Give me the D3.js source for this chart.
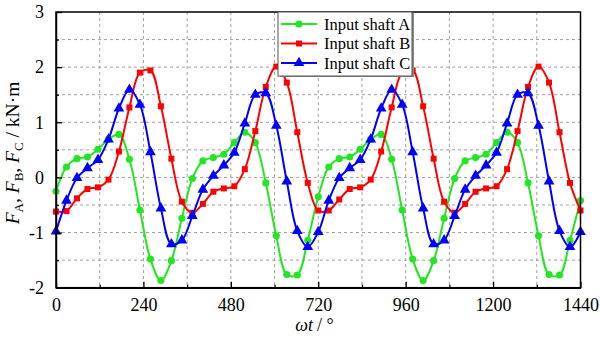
<!DOCTYPE html>
<html><head><meta charset="utf-8">
<script src="https://cdn.jsdelivr.net/npm/d3@7"></script>
<style>body{margin:0;background:#fff}svg{display:block}svg text{font-family:"Liberation Serif","Times New Roman",serif !important}</style>
</head><body><svg id="c" width="600" height="338"></svg>
<script>
// angles (degrees), one sample every 28.8°
const angles = d3.range(0, 51).map(i => i * 28.8);
const xTicks = [0, 240, 480, 720, 960, 1200, 1440];
const yTicks = [-2, -1, 0, 1, 2, 3];
const seriesNames = ["Input shaft A", "Input shaft B", "Input shaft C"];
const colors = ["#22e622", "#ff0000", "#0000ff"];
const shaftA = [
 -0.25, 0.19, 0.34, 0.37, 0.51, 0.69, 0.78, 0.33, -0.59, -1.48, -1.87, -1.51, -0.74,
 -0.02, 0.30, 0.36, 0.42, 0.63, 0.82, 0.63, -0.10, -1.06, -1.76, -1.77, -1.14, -0.35,
 0.19, 0.34, 0.37, 0.51, 0.69, 0.78, 0.33, -0.59, -1.48, -1.87, -1.51, -0.74,
 -0.02, 0.30, 0.36, 0.42, 0.63, 0.82, 0.63, -0.10, -1.06, -1.76, -1.77, -1.14, -0.42];
const shaftB = [
 -0.62, -0.61, -0.38, -0.21, -0.18, -0.04, 0.47, 1.27, 1.90, 1.94, 1.29, 0.34, -0.44,
 -0.64, -0.48, -0.26, -0.20, -0.16, 0.15, 0.84, 1.64, 2.01, 1.72, 0.82, -0.10, -0.60,
 -0.60, -0.40, -0.21, -0.18, -0.04, 0.47, 1.27, 1.90, 1.94, 1.29, 0.34, -0.44,
 -0.64, -0.48, -0.26, -0.20, -0.16, 0.15, 0.84, 1.64, 2.01, 1.72, 0.82, -0.10, -0.60];
const shaftC = [
 -0.98, -0.42, -0.01, 0.17, 0.32, 0.69, 1.25, 1.59, 1.32, 0.46, -0.56, -1.21, -1.14,
 -0.70, -0.22, 0.03, 0.22, 0.45, 0.98, 1.50, 1.53, 0.94, -0.07, -0.97, -1.26, -0.99,
 -0.42, -0.01, 0.17, 0.32, 0.69, 1.25, 1.59, 1.32, 0.46, -0.56, -1.21, -1.14,
 -0.70, -0.22, 0.03, 0.22, 0.45, 0.98, 1.50, 1.53, 0.94, -0.07, -0.97, -1.26, -0.99];
const seriesValues = [shaftA, shaftB, shaftC];

const FONT = '"Liberation Serif", "Times New Roman", serif';
const L = 56, R = 580.5, T = 12, B = 287.7;
const svg = d3.select("#c");
const x = d3.scaleLinear().domain([0, 1440]).range([L, R]);
const y = d3.scaleLinear().domain([-2, 3]).range([B, T]);

// grid
const g = svg.append("g");
g.selectAll(".gx").data(d3.range(120, 1440, 120)).join("line")
  .attr("x1", d => x(d)).attr("x2", d => x(d)).attr("y1", T).attr("y2", B)
  .attr("stroke", "#a0a0a0").attr("stroke-width", 1).attr("stroke-dasharray", "3,3");
g.selectAll(".gy").data(d3.range(-1.5, 3, 0.5)).join("line")
  .attr("y1", d => y(d)).attr("y2", d => y(d)).attr("x1", L).attr("x2", R)
  .attr("stroke", "#a0a0a0").attr("stroke-width", 1).attr("stroke-dasharray", "3,3");

// series
const line = d3.line().x((d, i) => x(angles[i])).y(d => y(d)).curve(d3.curveCatmullRom.alpha(0.5));
const sym = [d3.symbolCircle, d3.symbolSquare, d3.symbolTriangle];
const symSize = [40, 36, 50];
seriesValues.forEach((vals, k) => {
  svg.append("path").attr("d", line(vals)).attr("fill", "none")
    .attr("stroke", colors[k]).attr("stroke-width", 2);
  svg.append("g").selectAll("path").data(vals).join("path")
    .attr("d", d3.symbol().type(sym[k]).size(symSize[k]))
    .attr("transform", (d, i) => `translate(${x(angles[i])},${y(d)})`)
    .attr("fill", colors[k]);
});

// axes frame
svg.append("rect").attr("x", L).attr("y", T).attr("width", R - L).attr("height", B - T)
  .attr("fill", "none").attr("stroke", "#000").attr("stroke-width", 1.5);
const xAxis = d3.axisBottom(x).tickValues(xTicks).tickSizeInner(-6).tickSizeOuter(0).tickPadding(11)
  .tickFormat(d3.format("d"));
const gx = svg.append("g").attr("transform", `translate(0,${B})`).call(xAxis);
const xMinor = d3.axisBottom(x).tickValues(d3.range(120, 1440, 240)).tickSizeInner(-3).tickSizeOuter(0).tickFormat("");
svg.append("g").attr("transform", `translate(0,${B})`).call(xMinor).select(".domain").remove();
const yAxis = d3.axisLeft(y).tickValues(yTicks).tickSizeInner(-6).tickSizeOuter(0).tickPadding(12)
  .tickFormat(d => d < 0 ? "-" + Math.abs(d) : String(d));
const gy = svg.append("g").attr("transform", `translate(${L},0)`).call(yAxis);
const yMinor = d3.axisLeft(y).tickValues(d3.range(-1.5, 3, 1)).tickSizeInner(-3).tickSizeOuter(0).tickFormat("");
svg.append("g").attr("transform", `translate(${L},0)`).call(yMinor).select(".domain").remove();
svg.selectAll(".domain").attr("stroke-width", 1.5);
svg.selectAll(".tick line").attr("stroke-width", 1.3);
svg.selectAll("g").attr("font-family", FONT);
[gx, gy].forEach(a => a.selectAll("text").attr("font-size", 18).attr("fill", "#000"));

// axis titles
svg.append("text").attr("x", 313).attr("y", 331).attr("text-anchor", "end").attr("font-size", 18)
  .attr("font-family", FONT).attr("font-style", "italic").text("ωt");
svg.append("text").attr("x", 317).attr("y", 331).attr("text-anchor", "start").attr("font-size", 18)
  .attr("font-family", FONT).text("/ °");
const yl = svg.append("text").attr("transform", "translate(19,153) rotate(-90)")
  .attr("text-anchor", "middle").attr("font-size", 19.5).attr("font-family", FONT);
yl.html('<tspan font-style="italic">F</tspan><tspan font-size="13" dy="4">A</tspan><tspan dy="-4">, </tspan>' +
  '<tspan font-style="italic">F</tspan><tspan font-size="13" dy="4">B</tspan><tspan dy="-4">, </tspan>' +
  '<tspan font-style="italic">F</tspan><tspan font-size="13" dy="4">C</tspan><tspan dy="-4"> / kN·m</tspan>');

// legend
const lg = svg.append("g");
lg.append("rect").attr("x", 280).attr("y", T + 1).attr("width", 134).attr("height", 64)
  .attr("fill", "#888");
lg.append("rect").attr("x", 278).attr("y", T).attr("width", 134).attr("height", 64)
  .attr("fill", "#fff").attr("stroke", "#555").attr("stroke-width", 1);
seriesNames.forEach((n, k) => {
  const yy = T + 12 + k * 19.5;
  lg.append("line").attr("x1", 281).attr("x2", 317).attr("y1", yy).attr("y2", yy)
    .attr("stroke", colors[k]).attr("stroke-width", 2);
  lg.append("path").attr("d", d3.symbol().type(sym[k]).size(symSize[k]))
    .attr("transform", `translate(299,${yy})`).attr("fill", colors[k]);
  lg.append("text").attr("x", 324).attr("y", yy + 5.5).attr("font-size", 16.5)
    .attr("font-family", FONT).text(n);
});
</script></body></html>
